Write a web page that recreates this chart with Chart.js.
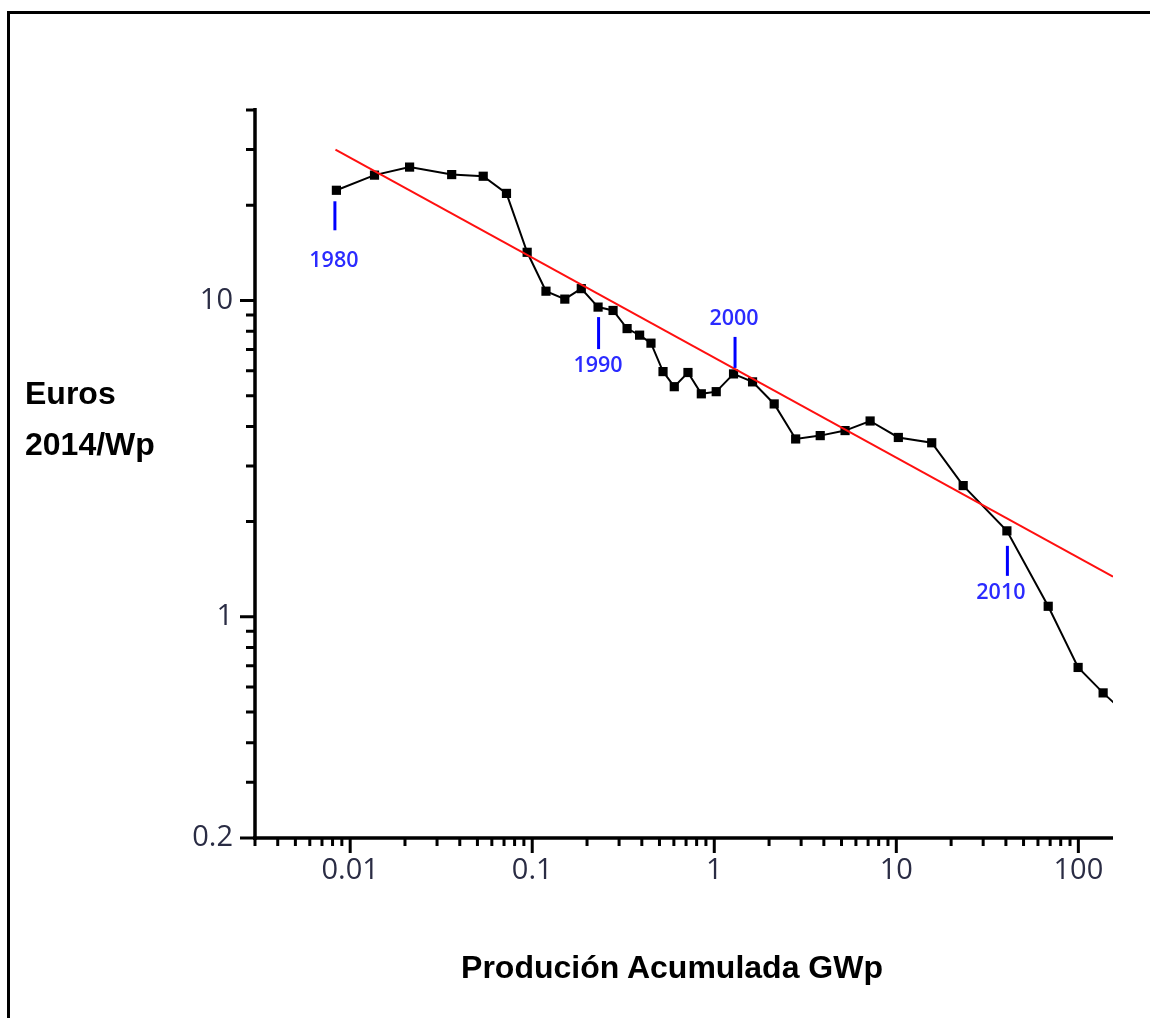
<!DOCTYPE html>
<html>
<head>
<meta charset="utf-8">
<script src="https://cdn.jsdelivr.net/npm/chart.js@4"></script>
<style>
  html, body { margin: 0; padding: 0; background: #fff; }
  body { width: 1150px; height: 1018px; position: relative; overflow: hidden; font-family: 'Liberation Sans', Arial, sans-serif; }
  #frame { position: absolute; left: 7px; top: 11px; width: 1200px; height: 1100px; border: 3px solid #000; box-sizing: border-box; }
  #chart { position: absolute; left: 0; top: 0; }
  .title { position: absolute; font-weight: bold; font-size: 32px; line-height: 32px; color: #000; white-space: nowrap; }
</style>
</head>
<body>
<div id="frame"></div>
<canvas id="chart" width="1150" height="1018"></canvas>
<div class="title" style="left:25px; top:377px;">Euros</div>
<div class="title" style="left:25px; top:428px;">2014/Wp</div>
<div class="title" style="left:672px; top:951px; transform:translateX(-50%);">Produción Acumulada GWp</div>
<script>
// Curva de aprendizaje FV — precio (€2014/Wp) frente a producción acumulada (GWp), log-log

// ── Datos: un punto por año, 1980–2014 ──
const prodGWp = [0.0084, 0.0136, 0.0212, 0.0361, 0.0538, 0.0722, 0.0938, 0.119, 0.151, 0.186,
  0.230, 0.278, 0.332, 0.389, 0.449, 0.523, 0.603, 0.717, 0.849, 1.025,
  1.276, 1.623, 2.134, 2.80, 3.82, 5.23, 7.18, 10.26, 15.65, 23.3,
  40.5, 68.3, 99.7, 136.8, 185];
const priceEur = [22.3, 24.9, 26.4, 25.0, 24.7, 21.8, 14.2, 10.7, 10.1, 10.9,
  9.53, 9.30, 8.15, 7.77, 7.33, 5.96, 5.34, 5.92, 5.07, 5.15,
  5.86, 5.53, 4.71, 3.65, 3.74, 3.88, 4.16, 3.69, 3.55, 2.60,
  1.87, 1.08, 0.692, 0.575, 0.49];

// recta de ajuste (rojo)
const fitX = [0.0083, 155];
const fitY = [30.0, 1.34];

// marcas de año (índice en la serie)
const markYears = ['1980', '1990', '2000', '2010'];
const markIdx = [0, 10, 20, 30];

// ejes
const xMin = 0.003, xMax = 155;
const yMin = 0.2, yMax = 40;
const xLabelVals = [0.01, 0.1, 1, 10, 100];
const xTickLabels = ['0.01', '0.1', '1', '10', '100'];
const yLabelVals = [10, 1, 0.2];
const yTickLabels = ['10', '1', '0.2'];
const mantissas = [1, 2, 3, 4, 5, 6, 7, 8, 9];

// ── estilo de las marcas (side: 1 abajo, -1 arriba) ──
const markStyle = [
  { side: 1, gap: 11, len: 29, text: 71, lineDx: -1.5, textDx: -2.5 },
  { side: 1, gap: 10, len: 32, text: 59, lineDx: 0.5, textDx: 0 },
  { side: -1, gap: 6, len: 31, text: 55, lineDx: 1.5, textDx: 0.5 },
  { side: 1, gap: 15, len: 30, text: 62, lineDx: 0.5, textDx: -6 },
];

const TICK_COLOR = '#2a2c44';

function logTicks(min, max) {
  const out = [];
  for (let e = -3; e <= 2; e++) {
    mantissas.forEach(m => {
      const v = +(m * Math.pow(10, e)).toPrecision(6);
      if (v >= min * 0.999 && v <= max * 1.001) out.push(v);
    });
  }
  return out;
}

function isLabeled(v, vals) {
  return vals.findIndex(u => Math.abs(u - v) / u < 1e-6);
}

function labelFor(v, vals, labels) {
  const i = isLabeled(v, vals);
  return i < 0 ? '' : labels[i];
}

const xTickVals = logTicks(xMin, xMax);
const yTickVals = logTicks(yMin, yMax);

// ── ejes gruesos con marcas largas (etiquetadas) y cortas ──
const axisPlugin = {
  id: 'axisTicks',
  afterDraw(chart) {
    const { ctx, chartArea: a, scales: { x, y } } = chart;
    ctx.save();
    ctx.strokeStyle = '#000';
    ctx.lineCap = 'butt';
    ctx.lineWidth = 3.5;
    ctx.beginPath();
    ctx.moveTo(a.left, a.top - 2);
    ctx.lineTo(a.left, a.bottom + 2);
    ctx.moveTo(a.left - 2, a.bottom);
    ctx.lineTo(a.right, a.bottom);
    ctx.stroke();

    ctx.lineWidth = 3;
    ctx.beginPath();
    x.ticks.forEach(t => {
      const px = x.getPixelForValue(t.value);
      const len = isLabeled(t.value, xLabelVals) >= 0 ? 15 : 8;
      ctx.moveTo(px, a.bottom);
      ctx.lineTo(px, a.bottom + len);
    });
    y.ticks.forEach(t => {
      const py = y.getPixelForValue(t.value);
      const len = isLabeled(t.value, yLabelVals) >= 0 ? 15 : 9;
      ctx.moveTo(a.left, py);
      ctx.lineTo(a.left - len, py);
    });
    ctx.stroke();
    ctx.restore();
  }
};

// ── marcas azules de año ──
const yearMarks = {
  id: 'yearMarks',
  afterDatasetsDraw(chart) {
    const { ctx, scales: { x, y } } = chart;
    ctx.save();
    ctx.strokeStyle = '#0000ff';
    ctx.lineWidth = 3;
    ctx.fillStyle = '#2b2bff';
    ctx.font = '600 21.5px "Open Sans"';
    ctx.textAlign = 'center';
    ctx.textBaseline = 'middle';
    markIdx.forEach((idx, k) => {
      const st = markStyle[k];
      const px = x.getPixelForValue(prodGWp[idx]);
      const py = y.getPixelForValue(priceEur[idx]);
      const lx = px + st.lineDx;
      ctx.beginPath();
      ctx.moveTo(lx, py + st.side * st.gap);
      ctx.lineTo(lx, py + st.side * (st.gap + st.len));
      ctx.stroke();
      ctx.fillText(markYears[k], px + st.textDx, py + st.side * st.text);
    });
    ctx.restore();
  }
};

new Chart(document.getElementById('chart'), {
  type: 'line',
  data: {
    datasets: [
      {
        label: 'Precio',
        data: prodGWp.map((v, i) => ({ x: v, y: priceEur[i] })),
        borderColor: '#000', borderWidth: 2,
        pointStyle: 'rect', pointRadius: 6.5, pointBorderWidth: 0,
        pointBackgroundColor: '#000', tension: 0, order: 1,
      },
      {
        label: 'Ajuste',
        data: fitX.map((v, i) => ({ x: v, y: fitY[i] })),
        borderColor: '#ff1010', borderWidth: 2, pointRadius: 0, order: 0,
      },
    ]
  },
  options: {
    responsive: false, animation: false, devicePixelRatio: 1,
    layout: { padding: { left: 0, top: 110, right: 37, bottom: 120 } },
    plugins: { legend: { display: false }, tooltip: { enabled: false } },
    scales: {
      x: {
        type: 'logarithmic', min: xMin, max: xMax,
        grid: { display: false, drawTicks: false }, border: { display: false },
        afterBuildTicks: s => { s.ticks = xTickVals.map(v => ({ value: v })); },
        afterFit: s => { s.height = 60; },
        ticks: {
          autoSkip: false, maxRotation: 0, padding: 15, color: TICK_COLOR,
          font: { family: 'Open Sans', size: 29 },
          callback: v => labelFor(v, xLabelVals, xTickLabels),
        },
      },
      y: {
        type: 'logarithmic', min: yMin, max: yMax,
        grid: { display: false, drawTicks: false }, border: { display: false },
        afterBuildTicks: s => { s.ticks = yTickVals.map(v => ({ value: v })); },
        afterFit: s => { s.width = 255; },
        ticks: {
          autoSkip: false, padding: 22, color: TICK_COLOR,
          font: { family: 'Open Sans', size: 29 },
          callback: v => labelFor(v, yLabelVals, yTickLabels),
        },
      },
    },
  },
  plugins: [axisPlugin, yearMarks],
});
</script>
</body>
</html>
